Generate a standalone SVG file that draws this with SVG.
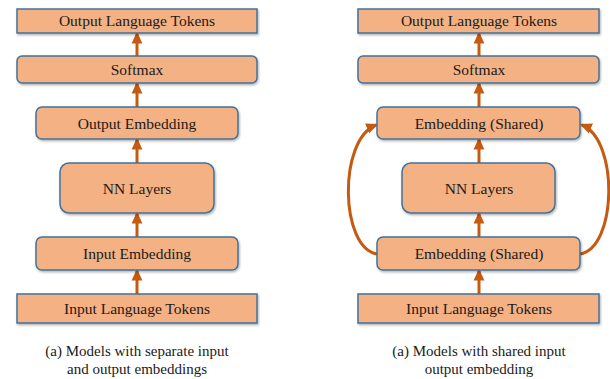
<svg xmlns="http://www.w3.org/2000/svg" width="610" height="379" viewBox="0 0 610 379">
<defs>
<style>
.box{fill:#F4B183;stroke:#41719C;stroke-width:1.5}
.t{font-family:'Liberation Serif','DejaVu Serif',serif;font-size:15.5px;fill:#1a1a1a;text-anchor:middle}
.cap{font-family:'Liberation Serif','DejaVu Serif',serif;font-size:15px;fill:#1a1a1a;text-anchor:middle}
.arr{fill:none;stroke:#C55A11;stroke-width:3;marker-end:url(#ah)}
</style>
<marker id="ah" markerUnits="userSpaceOnUse" markerWidth="12" markerHeight="12" viewBox="0 0 10 10" refX="8" refY="5" orient="auto">
<path d="M0,0.5 L10,5 L0,9.5 Z" fill="#C55A11"/>
</marker>
<filter id="sh" x="-10%" y="-20%" width="120%" height="150%">
<feDropShadow dx="1" dy="1.5" stdDeviation="1.2" flood-color="#000" flood-opacity="0.3"/>
</filter>
</defs>
<g id="connectors">
<line class="arr" x1="137" y1="56" x2="137" y2="34"/>
<line class="arr" x1="137" y1="107" x2="137" y2="84"/>
<line class="arr" x1="137" y1="163" x2="137" y2="140"/>
<line class="arr" x1="137" y1="237" x2="137" y2="214"/>
<line class="arr" x1="137" y1="294" x2="137" y2="271"/>
<line class="arr" x1="479" y1="56" x2="479" y2="34"/>
<line class="arr" x1="479" y1="107" x2="479" y2="84"/>
<line class="arr" x1="479" y1="163" x2="479" y2="140"/>
<line class="arr" x1="479" y1="237" x2="479" y2="214"/>
<line class="arr" x1="479" y1="294" x2="479" y2="271"/>
<path class="arr" d="M377,254 C340,248 338,140 376,125"/>
<path class="arr" d="M580,254 C617,248 619,140 582,125"/>
</g>
<g id="left-out-tokens"><rect class="box" filter="url(#sh)" x="17" y="9" width="240" height="24"/><text class="t" x="137" y="26">Output Language Tokens</text></g>
<g id="left-softmax"><rect class="box" filter="url(#sh)" x="17" y="56" width="240" height="27" rx="5"/><text class="t" x="137" y="75">Softmax</text></g>
<g id="left-out-emb"><rect class="box" filter="url(#sh)" x="36" y="107" width="202" height="32" rx="6"/><text class="t" x="137" y="129">Output Embedding</text></g>
<g id="left-nn"><rect class="box" filter="url(#sh)" x="60" y="163" width="154" height="50" rx="9"/><text class="t" x="137" y="194">NN Layers</text></g>
<g id="left-in-emb"><rect class="box" filter="url(#sh)" x="36" y="237" width="202" height="33" rx="6"/><text class="t" x="137" y="259">Input Embedding</text></g>
<g id="left-in-tokens"><rect class="box" filter="url(#sh)" x="17" y="294" width="240" height="29"/><text class="t" x="137" y="314">Input Language Tokens</text></g>
<g id="right-out-tokens"><rect class="box" filter="url(#sh)" x="358" y="9" width="241" height="24"/><text class="t" x="479" y="26">Output Language Tokens</text></g>
<g id="right-softmax"><rect class="box" filter="url(#sh)" x="358" y="56" width="241" height="27" rx="5"/><text class="t" x="479" y="75">Softmax</text></g>
<g id="right-emb-top"><rect class="box" filter="url(#sh)" x="377" y="107" width="203" height="32" rx="6"/><text class="t" x="479" y="129">Embedding (Shared)</text></g>
<g id="right-nn"><rect class="box" filter="url(#sh)" x="402" y="163" width="153" height="50" rx="9"/><text class="t" x="479" y="194">NN Layers</text></g>
<g id="right-emb-bot"><rect class="box" filter="url(#sh)" x="377" y="237" width="203" height="33" rx="6"/><text class="t" x="479" y="259">Embedding (Shared)</text></g>
<g id="right-in-tokens"><rect class="box" filter="url(#sh)" x="358" y="294" width="241" height="29"/><text class="t" x="479" y="314">Input Language Tokens</text></g>
<g id="captions">
<text class="cap" x="137" y="356">(a) Models with separate input</text>
<text class="cap" x="137" y="374">and output embeddings</text>
<text class="cap" x="479" y="356">(a) Models with shared input</text>
<text class="cap" x="479" y="374">output embedding</text>
</g>
</svg>
